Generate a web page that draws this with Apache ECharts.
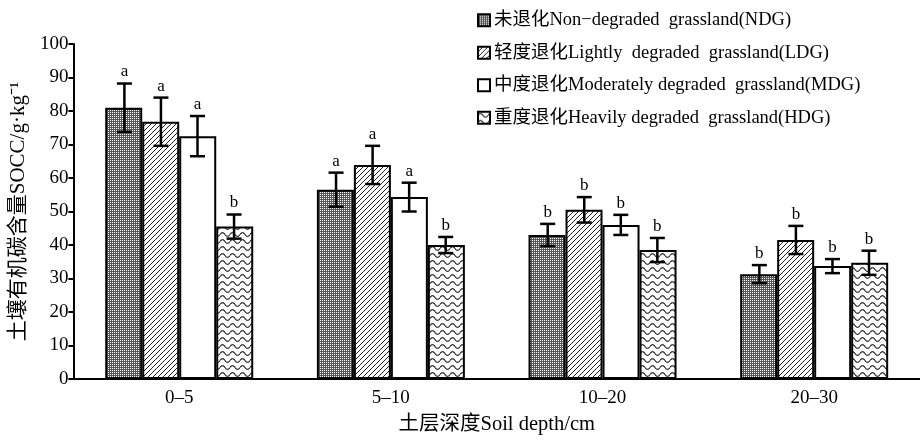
<!DOCTYPE html>
<html>
<head>
    <meta charset="utf-8">
    <title>土壤有机碳含量</title>
    <script src="https://cdn.jsdelivr.net/npm/echarts@6/dist/echarts.min.js"></script>
    <style>
        body { margin: 0; background: #fff; }
        #chart { width: 920px; height: 446px; }
    </style>
</head>
<body>
    <div id="chart"></div>
    <script type="text/javascript">
        // 数据
        const categories = ['0–5', '5–10', '10–20', '20–30'];
        const seriesNames = [
            '未退化Non−degraded  grassland(NDG)',
            '轻度退化Lightly  degraded  grassland(LDG)',
            '中度退化Moderately degraded  grassland(MDG)',
            '重度退化Heavily degraded  grassland(HDG)'
        ];
        const ndg = [81.0, 56.5, 43.0, 31.3];
        const ldg = [76.8, 63.9, 50.5, 41.5];
        const mdg = [72.5, 54.3, 46.0, 33.7];
        const hdg = [45.5, 40.0, 38.5, 34.7];
        const ndgErr = [7.2, 5.1, 3.3, 2.7];
        const ldgErr = [7.2, 5.7, 3.8, 4.2];
        const mdgErr = [6.0, 4.3, 3.0, 2.1];
        const hdgErr = [3.6, 2.4, 3.6, 3.6];
        const ndgSig = ['a', 'a', 'b', 'b'];
        const ldgSig = ['a', 'a', 'b', 'b'];
        const mdgSig = ['a', 'a', 'b', 'b'];
        const hdgSig = ['b', 'b', 'b', 'b'];

        const FONT = "'Liberation Serif', 'Noto Sans CJK SC', serif";
        const BAR_W = 37;

        // 填充图案
        function makePattern(w, h, draw) {
            const c = document.createElement('canvas');
            c.width = w;
            c.height = h;
            draw(c.getContext('2d'));
            return { image: c, repeat: 'repeat' };
        }
        const dotPattern = makePattern(2, 2, function (ctx) {
            ctx.fillStyle = '#555555';
            ctx.fillRect(0, 0, 2, 2);
            ctx.fillStyle = '#ffffff';
            ctx.fillRect(0, 0, 1, 1);
        });
        const hatchPattern = makePattern(5, 5, function (ctx) {
            ctx.fillStyle = '#fff';
            ctx.fillRect(0, 0, 5, 5);
            ctx.strokeStyle = '#222';
            ctx.lineWidth = 1;
            ctx.beginPath();
            ctx.moveTo(-1, 6); ctx.lineTo(6, -1);
            ctx.moveTo(-1, 1); ctx.lineTo(1, -1);
            ctx.moveTo(4, 6); ctx.lineTo(6, 4);
            ctx.stroke();
        });
        const wavePattern = makePattern(10, 7, function (ctx) {
            ctx.fillStyle = '#fff';
            ctx.fillRect(0, 0, 10, 7);
            ctx.strokeStyle = '#111';
            ctx.lineWidth = 1.1;
            ctx.beginPath();
            for (let x = 0; x <= 10; x += 0.5) {
                const y = 3.5 - 1.8 * Math.sin(2 * Math.PI * x / 10);
                if (x === 0) ctx.moveTo(x, y); else ctx.lineTo(x, y);
            }
            ctx.stroke();
        });

        const values = [ndg, ldg, mdg, hdg];
        const errors = [ndgErr, ldgErr, mdgErr, hdgErr];
        const sigs = [ndgSig, ldgSig, mdgSig, hdgSig];
        const fills = [dotPattern, hatchPattern, '#ffffff', wavePattern];

        const chart = echarts.init(document.getElementById('chart'), null, { renderer: 'canvas' });

        const series = [];
        values.forEach(function (vals, i) {
            series.push({
                name: seriesNames[i],
                type: 'bar',
                data: vals,
                barWidth: BAR_W,
                barGap: '0%',
                itemStyle: {
                    color: fills[i],
                    borderColor: '#000',
                    borderWidth: 2
                }
            });
        });
        values.forEach(function (vals, i) {
            series.push({
                type: 'custom',
                name: seriesNames[i] + '-err',
                z: 10,
                data: vals.map(function (v, k) { return [k, v, errors[i][k]]; }),
                encode: { x: 0, y: 1 },
                renderItem: function (params, api) {
                    const k = api.value(0);
                    const v = api.value(1);
                    const e = api.value(2);
                    const c = api.coord([k, v]);
                    const bw = api.size([1, 0])[0] * BAR_W / 214.25;
                    const x = c[0] + (i - 1.5) * bw;
                    const top = api.coord([k, v + e])[1];
                    const bot = api.coord([k, v - e])[1];
                    const cap = 7.5;
                    const ls = { stroke: '#000', lineWidth: 2.5 };
                    return {
                        type: 'group',
                        children: [
                            { type: 'line', shape: { x1: x, y1: top, x2: x, y2: bot }, style: ls },
                            { type: 'line', shape: { x1: x - cap, y1: top, x2: x + cap, y2: top }, style: ls },
                            { type: 'line', shape: { x1: x - cap, y1: bot, x2: x + cap, y2: bot }, style: ls },
                            {
                                type: 'text',
                                style: {
                                    x: x, y: top - 3,
                                    text: sigs[i][k],
                                    align: 'center', verticalAlign: 'bottom',
                                    font: '17px ' + FONT,
                                    fill: '#000'
                                }
                            }
                        ]
                    };
                }
            });
        });

        const option = {
            backgroundColor: '#fff',
            animation: false,
            textStyle: { fontFamily: FONT, color: '#000' },
            legend: {
                data: seriesNames,
                orient: 'vertical',
                left: 472,
                top: 6,
                icon: 'rect',
                itemWidth: 12,
                itemHeight: 12,
                itemGap: 14,
                textStyle: { fontFamily: FONT, fontSize: 18.5, color: '#000', lineHeight: 18, padding: [0, 0, 0, -1] }
            },
            grid: { left: 73, top: 44, width: 857, height: 335 },
            xAxis: {
                type: 'category',
                data: categories,
                name: '土层深度Soil depth/cm',
                nameLocation: 'middle',
                nameGap: 35,
                nameTextStyle: { fontFamily: FONT, fontSize: 20.5, color: '#000' },
                axisLine: { lineStyle: { color: '#000', width: 2 } },
                axisTick: { inside: true, length: 5, lineStyle: { color: '#000', width: 2 } },
                axisLabel: { fontFamily: FONT, fontSize: 19, color: '#000', margin: 10 }
            },
            yAxis: {
                type: 'value',
                min: 0,
                max: 100,
                interval: 10,
                name: '土壤有机碳含量SOCC/g·kg⁻¹',
                nameLocation: 'middle',
                nameGap: 42,
                nameTextStyle: { fontFamily: FONT, fontSize: 21, color: '#000' },
                splitLine: { show: false },
                axisLine: { show: true, lineStyle: { color: '#000', width: 2 } },
                axisTick: { show: true, length: 5, lineStyle: { color: '#000', width: 2 } },
                axisLabel: { fontFamily: FONT, fontSize: 19, color: '#000', margin: 5 }
            },
            series: series
        };
        chart.setOption(option);
    </script>
</body>
</html>
